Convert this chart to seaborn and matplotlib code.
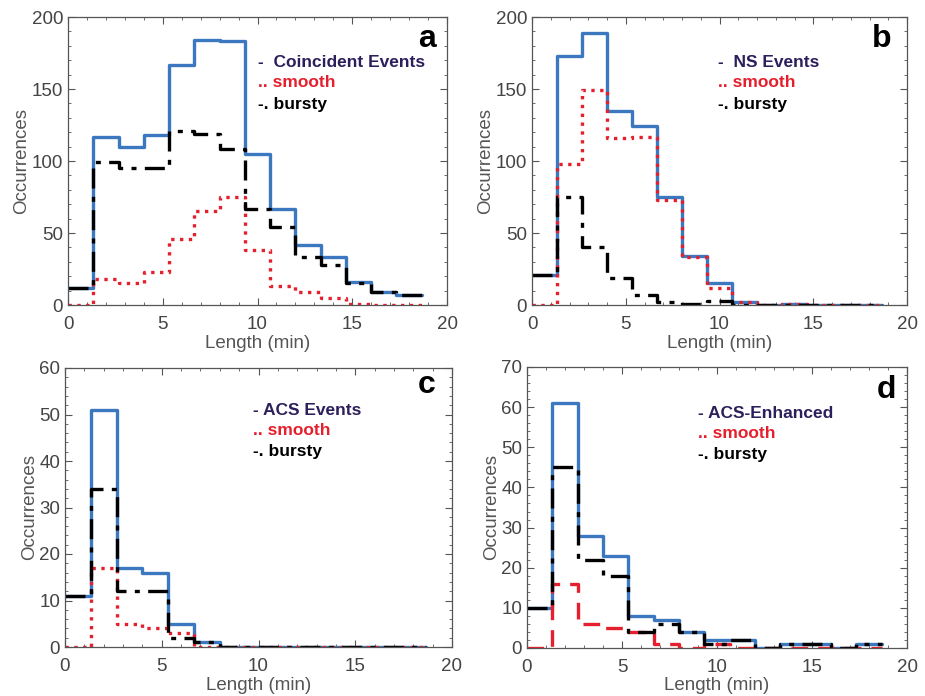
import numpy as np
import pandas as pd
import matplotlib
matplotlib.use("Agg")
import matplotlib.pyplot as plt
from matplotlib.ticker import MultipleLocator
import seaborn as sns

sns.set_style("ticks")
plt.rcParams['font.family'] = ['Liberation Sans', 'DejaVu Sans']

# histogram bins (minutes), 14 bins of 4/3 min
bin_edges = list(np.arange(15) * (4 / 3))
bin_centers = [(a + b) / 2 for a, b in zip(bin_edges[:-1], bin_edges[1:])]

# panel a: coincident events
coinc_all = [12, 117, 110, 118, 167, 184, 183, 105, 67, 42, 33, 16, 9, 7]
coinc_smooth = [0, 18, 15, 23, 46, 65, 75, 38, 13, 9, 5, 1, 0, 0]
coinc_bursty = [12, 99, 95, 95, 121, 119, 108, 67, 54, 33, 28, 15, 9, 7]

# panel b: NS events
ns_all = [21, 173, 189, 135, 124, 75, 34, 15, 2, 0, 1, 0, 0, 0]
ns_smooth = [0, 98, 149, 116, 117, 73, 33, 12, 2, 0, 1, 0, 0, 0]
ns_bursty = [21, 75, 40, 19, 7, 2, 1, 3, 0, 0, 0, 0, 0, 0]

# panel c: ACS events
acs_all = [11, 51, 17, 16, 5, 1, 0, 0, 0, 0, 0, 0, 0, 0]
acs_smooth = [0, 17, 5, 4, 3, 0, 0, 0, 0, 0, 0, 0, 0, 0]
acs_bursty = [11, 34, 12, 12, 2, 1, 0, 0, 0, 0, 0, 0, 0, 0]

# panel d: ACS-enhanced
enh_all = [10, 61, 28, 23, 8, 7, 4, 2, 2, 0, 1, 1, 0, 1]
enh_smooth = [0, 16, 6, 5, 4, 1, 0, 1, 0, 0, 0, 0, 0, 0]
enh_bursty = [10, 45, 22, 18, 4, 6, 4, 1, 2, 0, 1, 1, 0, 1]

panels = [
    ("a", "-  Coincident Events", coinc_all, coinc_smooth, coinc_bursty, 200, 50, 10, ":"),
    ("b", "-  NS Events", ns_all, ns_smooth, ns_bursty, 200, 50, 10, ":"),
    ("c", "- ACS Events", acs_all, acs_smooth, acs_bursty, 60, 10, 2, ":"),
    ("d", "- ACS-Enhanced", enh_all, enh_smooth, enh_bursty, 70, 10, 2, (0, (5, 3))),
]

# axes boxes in pixels (left, top, right, bottom) for a 925x696 figure
W, H = 925, 696
boxes = [(68, 17, 447, 305), (532, 17, 907, 305), (65, 368, 452, 647), (527, 367, 907, 648)]
# legend x, legend top reference, letter x, letter baseline (axes fractions)
legend_pos = [(0.50, 0.925, 0.947, 0.896), (0.496, 0.925, 0.933, 0.896),
              (0.486, 0.93, 0.935, 0.910), (0.45, 0.918, 0.947, 0.890)]

blue = "#3b78bf"
red = "#e5202e"
navy = "#2d1f5c"
grey = "#555555"

fig = plt.figure(figsize=(W / 100, H / 100), dpi=100)

for (letter, title, s_all, s_smooth, s_bursty, ymax, ymaj, ymin, red_ls), box, lp in zip(panels, boxes, legend_pos):
    l, t, r, b = box
    ax = fig.add_axes([l / W, 1 - b / H, (r - l) / W, (b - t) / H])

    df = pd.DataFrame({"length": bin_centers, "all": s_all, "smooth": s_smooth, "bursty": s_bursty})

    sns.histplot(data=df, x="length", weights="all", bins=bin_edges, element="step", fill=False,
                 color=blue, linewidth=2.4, ax=ax)
    sns.histplot(data=df, x="length", weights="smooth", bins=bin_edges, element="step", fill=False,
                 color=red, linewidth=2.4, linestyle=red_ls, ax=ax)
    sns.histplot(data=df, x="length", weights="bursty", bins=bin_edges, element="step", fill=False,
                 color="black", linewidth=2.4, linestyle=(0, (6, 2.5, 1.5, 2.5)), ax=ax)

    ax.set_xlim(0, 20)
    ax.set_ylim(0, ymax)
    ax.xaxis.set_major_locator(MultipleLocator(5))
    ax.xaxis.set_minor_locator(MultipleLocator(1))
    ax.yaxis.set_major_locator(MultipleLocator(ymaj))
    ax.yaxis.set_minor_locator(MultipleLocator(ymin))
    ax.tick_params(which="both", direction="in", top=True, right=True, color=grey,
                   labelcolor="#444444", labelsize=13.5)
    ax.tick_params(which="major", length=5, width=0.8)
    ax.tick_params(which="minor", length=2.5, width=0.6)
    ax.tick_params(axis="x", which="major", pad=8)
    for sp in ax.spines.values():
        sp.set_color(grey)
        sp.set_linewidth(0.9)
        sp.set_visible(True)

    ax.set_xlabel("Length (min)", fontsize=13.5, color=grey, labelpad=1)
    ax.set_ylabel("Occurrences", fontsize=13.5, color=grey, labelpad=1)

    x0, ybase, xlet, ylet = lp
    ax.text(x0, ybase - 0.083, title, transform=ax.transAxes, fontsize=12.5,
            fontweight="bold", color=navy, va="center", ha="left")
    ax.text(x0, ybase - 0.153, ".. smooth", transform=ax.transAxes, fontsize=12.5,
            fontweight="bold", color=red, va="center", ha="left")
    ax.text(x0, ybase - 0.23, "-. bursty", transform=ax.transAxes, fontsize=12.5,
            fontweight="bold", color="black", va="center", ha="left")
    ax.text(xlet, ylet, letter, transform=ax.transAxes, fontsize=23,
            fontweight="bold", color="black", va="baseline", ha="center")

fig.savefig("out.png", dpi=100)
